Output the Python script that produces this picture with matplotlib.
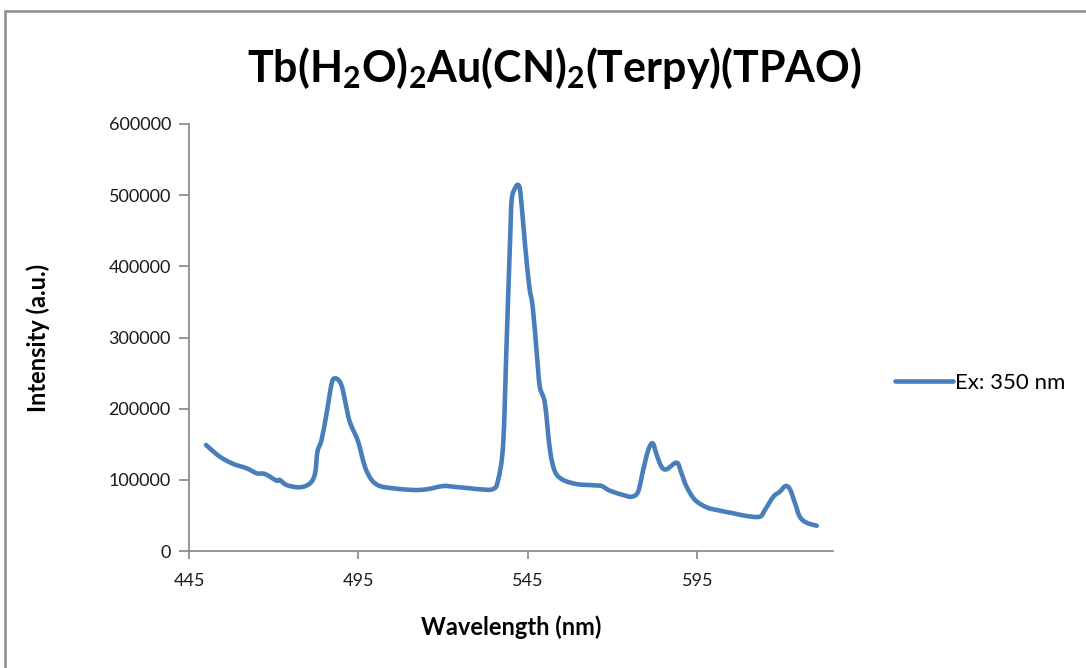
import matplotlib
matplotlib.use("Agg")
import matplotlib.pyplot as plt
import numpy as np
from matplotlib.patches import Rectangle, PathPatch
from matplotlib.path import Path
from matplotlib.lines import Line2D

# Emission spectrum, excitation at 350 nm
wavelength = [450.0, 454.1, 458.1, 462.0, 465.0, 467.4, 470.9, 471.8, 473.8, 477.7,
              480.7, 482.2, 482.9, 484.1, 485.6, 487.1, 488.1, 489.5, 490.5, 492.0,
              493.0, 494.9, 496.9, 498.9, 501.3, 505.3, 511.2, 515.1, 520.0, 523.0,
              527.9, 530.8, 534.7, 536.2, 537.7, 538.7, 539.7, 540.2, 541.2, 542.1,
              542.8, 544.1, 545.4, 546.4, 547.6, 548.5, 550.0, 551.5, 553.0, 555.4,
              559.4, 563.0, 565.5, 566.8, 569.2, 573.1, 575.6, 577.5, 579.0, 580.5,
              581.8, 583.0, 584.4, 585.9, 588.9, 590.3, 591.8, 594.3, 597.7, 600.7,
              605.6, 609.5, 613.4, 614.9, 617.4, 619.3, 621.0, 622.3, 623.8, 625.2,
              627.2, 630.2]
intensity = [149000, 132500, 122300, 116200, 109200, 108200, 98800, 99800, 92700, 89500,
             95100, 109200, 139600, 156000, 193500, 235600, 242600, 237900, 223900, 188700,
             174700, 153600, 118400, 99800, 91300, 88100, 85700, 86700, 91300, 90300,
             88100, 86700, 87000, 99800, 151300, 291900, 432400, 493200, 509700, 514300,
             502600, 432400, 371400, 343300, 277800, 230900, 207500, 141900, 111400, 99800,
             94000, 92700, 92000, 91300, 84700, 78700, 76300, 83300, 113800, 141900,
             151300, 134900, 118400, 114800, 124100, 109200, 90300, 71700, 61400, 57600,
             53000, 49200, 48200, 57600, 76300, 83300, 91300, 86700, 67000, 48200,
             39800, 35500]

series_label = "Ex: 350 nm"
x_ticks = [445, 495, 545, 595]
y_ticks = [0, 100000, 200000, 300000, 400000, 500000, 600000]

plt.rcParams["font.family"] = ["Lato", "DejaVu Sans"]
plt.rcParams["mathtext.default"] = "regular"

fig = plt.figure(figsize=(10.86, 6.68), dpi=100)
ax = fig.add_axes([189 / 1086, 1 - 551 / 668, (833 - 189) / 1086, (551 - 124) / 668])

line_color = "#4A7EBB"
axis_color = "#868686"
line_width = 3.3


def smooth_path(xs, ys):
    """Smoothed-line rendering: cubic Bezier segments through every data point."""
    p = np.column_stack([xs, ys]).astype(float)
    n = len(p)
    verts = [p[0]]
    codes = [Path.MOVETO]
    for i in range(n - 1):
        p0 = p[max(i - 1, 0)]
        p1 = p[i]
        p2 = p[i + 1]
        p3 = p[min(i + 2, n - 1)]
        c1 = p1 + (p2 - p0) / 6.0
        c2 = p2 - (p3 - p1) / 6.0
        verts += [c1, c2, p2]
        codes += [Path.CURVE4] * 3
    return Path(np.array(verts), codes)


ax.add_patch(PathPatch(smooth_path(wavelength, intensity), facecolor="none",
                       edgecolor=line_color, lw=line_width, capstyle="round",
                       joinstyle="round"))

ax.set_xlim(445, 635)
ax.set_ylim(0, 600000)
ax.set_xticks(x_ticks)
ax.set_yticks(y_ticks)
ax.set_xticklabels([str(v) for v in x_ticks])
ax.set_yticklabels([str(v) for v in y_ticks])

for side in ("top", "right"):
    ax.spines[side].set_visible(False)
for side in ("left", "bottom"):
    ax.spines[side].set_color(axis_color)
    ax.spines[side].set_linewidth(1.2)

ax.tick_params(axis="both", direction="out", color=axis_color, width=1.2,
               labelsize=13, labelcolor="#1a1a1a")
ax.tick_params(axis="y", length=7, pad=6)
ax.tick_params(axis="x", length=6, pad=10)

ax.set_xlabel("Wavelength (nm)", fontsize=17, fontweight="bold", labelpad=19)
ax.set_ylabel("Intensity (a.u.)", fontsize=17, fontweight="bold", labelpad=42)

fig.text(554 / 1086, 1 - 68 / 668, r"Tb(H$_2$O)$_2$Au(CN)$_2$(Terpy)(TPAO)",
         ha="center", va="center", fontsize=31, fontweight="bold")

handle = Line2D([], [], color=line_color, lw=line_width, solid_capstyle="round")
leg = ax.legend([handle], [series_label], loc="center left",
                bbox_to_anchor=(886 / 1086, 1 - 383 / 668),
                bbox_transform=fig.transFigure, frameon=False, fontsize=16,
                handlelength=2.6, handletextpad=0.1, borderaxespad=0)

# Chart frame
fig.patches.append(Rectangle((5 / 1086, -0.2), 1.2, 1.2 - 11 / 668,
                             transform=fig.transFigure, fill=False,
                             edgecolor="#8C8C8C", linewidth=1.8))

fig.savefig("out.png", dpi=100)
